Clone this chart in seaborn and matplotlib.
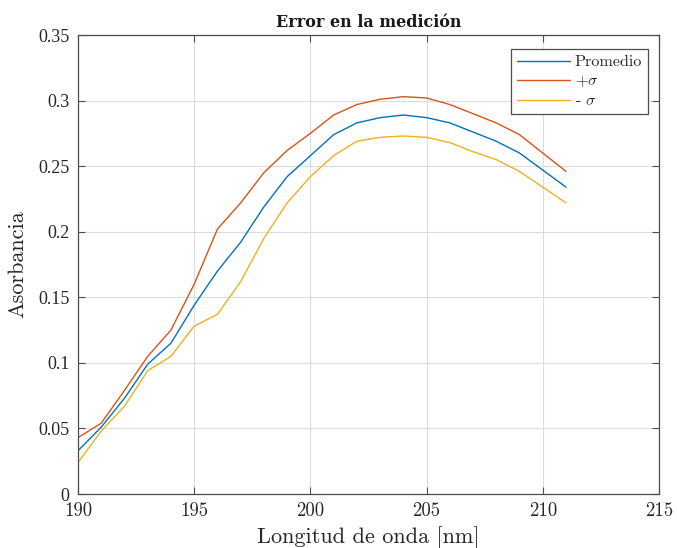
import numpy as np
import pandas as pd
import matplotlib
matplotlib.use("Agg")
import matplotlib.pyplot as plt
import seaborn as sns

# Wavelength (nm) and absorbance readings
longitud = [190, 191, 192, 193, 194, 195, 196, 197, 198, 199, 200,
            201, 202, 203, 204, 205, 206, 207, 208, 209, 210, 211]
promedio = [0.033, 0.051, 0.073, 0.099, 0.115, 0.144, 0.170, 0.192, 0.219, 0.242, 0.258,
            0.274, 0.283, 0.287, 0.289, 0.287, 0.283, 0.276, 0.269, 0.260, 0.247, 0.234]
mas_sigma = [0.043, 0.054, 0.079, 0.105, 0.125, 0.160, 0.202, 0.222, 0.245, 0.262, 0.275,
             0.289, 0.297, 0.301, 0.303, 0.302, 0.297, 0.290, 0.283, 0.274, 0.260, 0.246]
menos_sigma = [0.024, 0.048, 0.067, 0.094, 0.105, 0.128, 0.137, 0.162, 0.195, 0.222, 0.242,
               0.258, 0.269, 0.272, 0.273, 0.272, 0.268, 0.261, 0.255, 0.246, 0.234, 0.222]

etiquetas = [r"Promedio", r"$+\sigma$", r"- $\sigma$"]
colores = ["#0072BD", "#D95319", "#EDB120"]
x_ticks = [190, 195, 200, 205, 210, 215]
y_ticks = [0, 0.05, 0.1, 0.15, 0.2, 0.25, 0.3, 0.35]
y_tick_labels = ["0", "0.05", "0.1", "0.15", "0.2", "0.25", "0.3", "0.35"]

df = pd.DataFrame({
    "Longitud": longitud * 3,
    "Absorbancia": promedio + mas_sigma + menos_sigma,
    "Serie": [etiquetas[0]] * len(longitud) + [etiquetas[1]] * len(longitud)
             + [etiquetas[2]] * len(longitud),
})

sns.set_theme(style="white")
plt.rcParams["mathtext.fontset"] = "cm"
plt.rcParams["axes.unicode_minus"] = False

fig = plt.figure(figsize=(6.77, 5.48), dpi=100)
ax = fig.add_axes([0.1152, 0.0985, 0.8582, 0.8376])

sns.lineplot(data=df, x="Longitud", y="Absorbancia", hue="Serie",
             palette=dict(zip(etiquetas, colores)), linewidth=1.0, ax=ax)

ax.set_xlim(190, 215)
ax.set_ylim(0, 0.35)
ax.set_xticks(x_ticks)
ax.set_yticks(y_ticks)
ax.set_xticklabels([str(t) for t in x_ticks], family="cmr10", fontsize=13.5)
ax.set_yticklabels(y_tick_labels, family="Liberation Serif", fontsize=13)

ax.grid(True, color="#dcdcdc", linewidth=0.8)
ax.set_axisbelow(True)
for s in ax.spines.values():
    s.set_color("#4d4d4d")
    s.set_linewidth(0.9)
    s.set_visible(True)
ax.tick_params(direction="in", length=5, width=0.8, color="#4d4d4d",
               top=True, right=True, bottom=True, left=True,
               labelcolor="#262626", pad=6)

ax.set_xlabel("Longitud de onda [nm]", family="cmr10", fontsize=16, color="#262626",
              labelpad=4)
ax.set_ylabel("Asorbancia", family="cmr10", fontsize=16, color="#262626", labelpad=8)
ax.set_title("Error en la medición", fontsize=11.5, fontweight="bold",
             family="DejaVu Serif", color="#1a1a1a", pad=6)

handles, labels = ax.get_legend_handles_labels()
leg = ax.legend(handles, labels, loc="upper right", bbox_to_anchor=(0.9805, 0.969),
                prop={"family": "cmr10", "size": 11.6}, frameon=True, fancybox=False,
                edgecolor="#4d4d4d", framealpha=1, handlelength=3.3,
                borderpad=0.35, labelspacing=0.3, handletextpad=0.3, borderaxespad=0)
leg.get_frame().set_linewidth(0.9)

fig.savefig("out.png", dpi=100)
